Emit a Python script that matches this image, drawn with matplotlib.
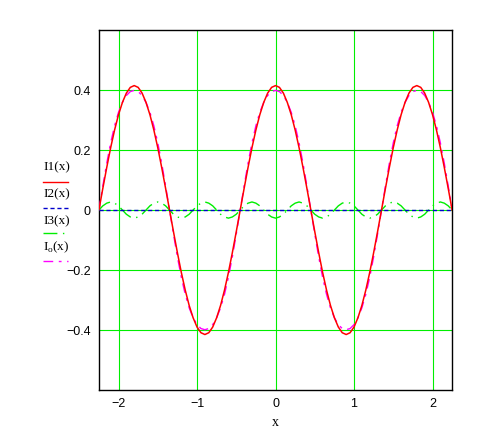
import matplotlib
matplotlib.use("Agg")
import matplotlib.pyplot as plt
import numpy as np
from matplotlib.lines import Line2D

# sample positions (x from -2.25 to 2.25, step 0.05)
x = np.linspace(-2.25, 2.25, 91)

# I1(x)
I1 = [0.000, 0.072, 0.142, 0.208, 0.267, 0.318, 0.359, 0.390, 0.409, 0.415, 0.409, 0.390, 0.359, 0.318, 0.267, 0.208, 0.142, 0.072,
      0.000, -0.072, -0.142, -0.208, -0.267, -0.318, -0.359, -0.390, -0.409, -0.415, -0.409, -0.390, -0.359, -0.318, -0.267, -0.208, -0.142, -0.072,
      0.000, 0.072, 0.142, 0.208, 0.267, 0.318, 0.359, 0.390, 0.409, 0.415, 0.409, 0.390, 0.359, 0.318, 0.267, 0.208, 0.142, 0.072,
      0.000, -0.072, -0.142, -0.208, -0.267, -0.318, -0.359, -0.390, -0.409, -0.415, -0.409, -0.390, -0.359, -0.318, -0.267, -0.208, -0.142, -0.072,
      0.000, 0.072, 0.142, 0.208, 0.267, 0.318, 0.359, 0.390, 0.409, 0.415, 0.409, 0.390, 0.359, 0.318, 0.267, 0.208, 0.142, 0.072,
      0.000]

# I2(x): flat at zero
I2 = [0.0] * 91

# I3(x) small green ripple
I3 = [0.000, 0.014, 0.023, 0.027, 0.023, 0.014, 0.000, -0.014, -0.023, -0.027, -0.023, -0.014,
      0.000, 0.014, 0.023, 0.027, 0.023, 0.014, 0.000, -0.014, -0.023, -0.027, -0.023, -0.014,
      0.000, 0.014, 0.023, 0.027, 0.023, 0.014, 0.000, -0.014, -0.023, -0.027, -0.023, -0.014,
      0.000, 0.014, 0.023, 0.027, 0.023, 0.014, 0.000, -0.014, -0.023, -0.027, -0.023, -0.014,
      0.000, 0.014, 0.023, 0.027, 0.023, 0.014, 0.000, -0.014, -0.023, -0.027, -0.023, -0.014,
      0.000, 0.014, 0.023, 0.027, 0.023, 0.014, 0.000, -0.014, -0.023, -0.027, -0.023, -0.014,
      0.000, 0.014, 0.023, 0.027, 0.023, 0.014, 0.000, -0.014, -0.023, -0.027, -0.023, -0.014,
      0.000, 0.014, 0.023, 0.027, 0.023, 0.014, 0.000]

# Io(x) magenta curve
Io = [0.000, 0.080, 0.156, 0.224, 0.281, 0.326, 0.359, 0.382, 0.395, 0.399, 0.395, 0.382, 0.359, 0.326, 0.281, 0.224, 0.156, 0.080,
      0.000, -0.080, -0.156, -0.224, -0.281, -0.326, -0.359, -0.382, -0.395, -0.399, -0.395, -0.382, -0.359, -0.326, -0.281, -0.224, -0.156, -0.080,
      0.000, 0.080, 0.156, 0.224, 0.281, 0.326, 0.359, 0.382, 0.395, 0.399, 0.395, 0.382, 0.359, 0.326, 0.281, 0.224, 0.156, 0.080,
      0.000, -0.080, -0.156, -0.224, -0.281, -0.326, -0.359, -0.382, -0.395, -0.399, -0.395, -0.382, -0.359, -0.326, -0.281, -0.224, -0.156, -0.080,
      0.000, 0.080, 0.156, 0.224, 0.281, 0.326, 0.359, 0.382, 0.395, 0.399, 0.395, 0.382, 0.359, 0.326, 0.281, 0.224, 0.156, 0.080,
      0.000]

xticks = [-2, -1, 0, 1, 2]
yticks = [-0.4, -0.2, 0, 0.2, 0.4]

grid_green = '#00ee00'
magenta_ls = (0, (7, 4, 2, 4))
green_ls = (0, (10, 4, 1, 4))
blue_ls = (0, (3, 2))

fig = plt.figure(figsize=(4.92, 4.40), dpi=100)
ax = fig.add_axes([0.201, 0.1136, 0.718, 0.818])

ax.plot(x, Io, color='#ff00ff', lw=1.0, ls=magenta_ls, zorder=3)
ax.plot(x, I1, color='#ff0000', lw=1.1, zorder=4)
ax.plot(x, I3, color=grid_green, lw=1.0, ls=green_ls, zorder=3)
ax.plot(x, I2, color='#0000cc', lw=1.0, ls=blue_ls, zorder=5)

ax.set_xlim(-2.25, 2.25)
ax.set_ylim(-0.6, 0.6)
ax.set_xticks(xticks)
ax.set_yticks(yticks)
ax.set_xticklabels(['\u22122', '\u22121', '0', '1', '2'])
ax.set_yticklabels(['\u22120.4', '\u22120.2', '0', '0.2', '0.4'])
ax.tick_params(length=0, pad=6, labelsize=9)
for lab in ax.get_xticklabels() + ax.get_yticklabels():
    lab.set_fontfamily('Liberation Sans')
ax.grid(True, color=grid_green, lw=0.8)
ax.set_axisbelow(True)
for s in ax.spines.values():
    s.set_linewidth(1.0)
    s.set_color('black')

ax.set_xlabel('x', family='Liberation Serif', fontsize=10, labelpad=4)

# left-hand legend, Mathcad style
labels = ['I1(x)', 'I2(x)', 'I3(x)', r'I$_\mathregular{o}$(x)']
styles = [('#ff0000', '-'), ('#0000cc', blue_ls), (grid_green, green_ls), ('#ff00ff', magenta_ls)]
text_y = [273, 246, 219, 193]
line_y = [258, 232, 207, 179]
for lab, (c, ls), ty, ly in zip(labels, styles, text_y, line_y):
    fig.text(43 / 492, ty / 440, lab, family='Liberation Serif', fontsize=9.5, va='center', ha='left')
    fig.add_artist(Line2D([43 / 492, 68 / 492], [ly / 440, ly / 440], color=c, ls=ls, lw=1.0,
                          transform=fig.transFigure))

fig.savefig('out.png', dpi=100)
